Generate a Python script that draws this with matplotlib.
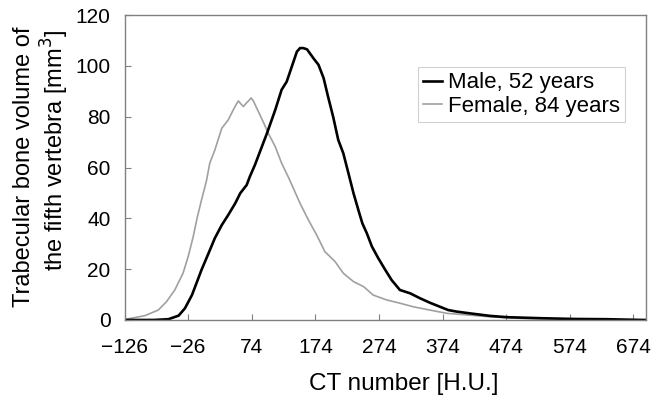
import numpy as np
import matplotlib
matplotlib.use("Agg")
import matplotlib.pyplot as plt

plt.rcParams['font.family'] = ['Liberation Sans', 'DejaVu Sans']

# Female, 84 years (gray)
female_hu = [-126, -115, -94, -73, -60, -47, -34, -26, -18, -12, -5, 3, 8, 16, 27, 37,
             45, 50, 53, 57, 61, 66, 70, 73, 77, 82, 92, 100, 111, 121, 132, 150, 163,
             176, 189, 205, 218, 234, 250, 265, 286, 307, 328, 354, 381, 412, 450, 500,
             560, 620, 694]
female_vol = [0.2, 0.7, 1.7, 3.9, 7.2, 11.8, 18.4, 24.9, 32.8, 40, 47.2, 55, 61.7, 66.9,
              75.5, 78.7, 82.7, 85, 86.2, 85, 84, 85.5, 86.5, 87.4, 86, 83.3, 78, 73.5,
              68.2, 61.7, 56, 45.9, 39.4, 33.5, 26.9, 23, 18.4, 15.1, 13.1, 9.8, 7.9,
              6.6, 5.2, 3.9, 2.6, 2, 1.2, 0.6, 0.3, 0.1, 0]

# Male, 52 years (black)
male_hu = [-126, -80, -57, -41, -31, -20, -13, -5, 6, 16, 27, 37, 48, 56, 66, 71, 79, 84,
           98, 111, 121, 129, 137, 145, 150, 155, 161, 171, 179, 187, 194, 202, 210, 218,
           226, 234, 242, 248, 255, 263, 273, 284, 294, 307, 323, 339, 354, 370, 383, 396,
           417, 449, 475, 527, 579, 632, 689, 694]
male_vol = [0, 0, 0.3, 1.7, 4.6, 9.8, 14.4, 19.7, 26.2, 32.2, 37.4, 41.3, 45.9, 49.9, 53.1,
            56.4, 61, 64.3, 73.5, 82.7, 90.6, 93.8, 99.7, 105.6, 107, 107, 106.5, 103,
            100.4, 95.2, 87.9, 80, 70.9, 65.6, 57.8, 49.9, 43, 38, 34.1, 28.9, 24.3, 19.7,
            15.7, 11.8, 10.5, 8.5, 6.8, 5.2, 3.9, 3.3, 2.6, 1.6, 1.1, 0.7, 0.4, 0.3, 0, 0]

x_ticks = np.arange(-126, 675, 100)
x_tick_labels = ['\u2212126', '\u221226', '74', '174', '274', '374', '474', '574', '674']
y_ticks = np.arange(0, 121, 20)

fig = plt.figure(figsize=(6.66, 3.96), dpi=100)
ax = fig.add_axes([0.187, 0.192, 0.783, 0.770])

ax.plot(female_hu, female_vol, color='#a0a0a0', lw=1.2, label='Female, 84 years')
ax.plot(male_hu, male_vol, color='black', lw=1.9, label='Male, 52 years')

ax.set_xlim(-126, 694)
ax.set_ylim(0, 120)

ax.set_xticks(x_ticks)
ax.set_xticklabels(x_tick_labels, fontsize=15)
ax.tick_params(axis='x', direction='in', length=4, color='#808080', pad=13)
ax.set_yticks(y_ticks)
ax.tick_params(axis='y', direction='in', length=4, color='#808080', labelsize=15, pad=10)

for s in ax.spines.values():
    s.set_color('#808080')
    s.set_linewidth(1.0)

fig.text(403.5 / 666, 1 - 384 / 396, 'CT number [H.U.]', ha='center', va='center', fontsize=17.5)
# y label, two lines
fig.text(24 / 666, 1 - 167 / 396, 'Trabecular bone volume of', ha='center', va='center',
         rotation=90, fontsize=17)
fig.text(55 / 666, 1 - 150 / 396, 'the fifth vertebra [mm$^3$]', ha='center', va='center',
         rotation=90, fontsize=17)

handles, labels = ax.get_legend_handles_labels()
leg = ax.legend(handles[::-1], labels[::-1], loc='upper left', bbox_to_anchor=(0.562, 0.83),
                borderaxespad=0, fontsize=16, fancybox=False, framealpha=1,
                edgecolor='#d0d0d0', handlelength=0.85, handletextpad=0.25,
                labelspacing=0.1, borderpad=0.25)
leg.get_frame().set_linewidth(0.8)

fig.savefig('out.png', dpi=100)
